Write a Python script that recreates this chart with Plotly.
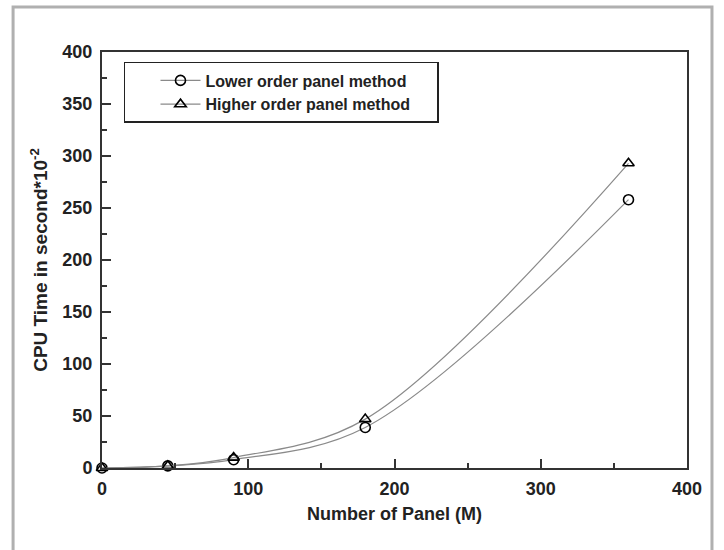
import plotly.graph_objects as go

panels = [0, 45, 90, 180, 360]
lower_order = [0, 2, 8, 39, 258]
higher_order = [0, 2, 10, 47, 293]

x_ticks = [0, 100, 200, 300, 400]
y_ticks = [0, 50, 100, 150, 200, 250, 300, 350, 400]

series_names = ["Lower order panel method", "Higher order panel method"]

FONT = "Liberation Sans, Arial, sans-serif"
PAD = "\u00a0" * 5

fig = go.Figure()
fig.add_trace(go.Scatter(
    x=panels, y=lower_order, name=series_names[0] + PAD,
    mode="lines+markers", line=dict(color="#8a8a8a", width=1.2, shape="spline", smoothing=1.0),
    marker=dict(symbol="circle-open", size=10, color="black", line=dict(width=1.6, color="black")),
    cliponaxis=False,
))
fig.add_trace(go.Scatter(
    x=panels, y=higher_order, name=series_names[1] + PAD,
    mode="lines+markers", line=dict(color="#8a8a8a", width=1.2, shape="spline", smoothing=1.0),
    marker=dict(symbol="triangle-up-open", size=10, color="black", line=dict(width=1.6, color="black")),
    cliponaxis=False,
))

axis_common = dict(
    showgrid=False, zeroline=False, showline=True, linecolor="#333333", linewidth=2,
    mirror=True, ticks="inside", tickcolor="#333333", tickwidth=2, ticklen=9,
    tickfont=dict(family=FONT, size=18, color="#222", weight="bold"),
    minor=dict(ticks="inside", ticklen=5, tickwidth=1.5, tickcolor="#333333"),
)

fig.update_xaxes(
    range=[0, 400], tickvals=x_ticks, ticktext=[str(v) for v in x_ticks],
    minor_dtick=50, ticklabelstandoff=3,
    title=dict(text="Number of Panel (M)", standoff=10,
               font=dict(family=FONT, size=18, color="#222", weight="bold")),
    **axis_common,
)
fig.update_yaxes(
    range=[0, 400], tickvals=y_ticks, ticktext=[str(v) for v in y_ticks],
    minor_dtick=25, ticklabelstandoff=4,
    title=dict(text="CPU Time in second*10<sup>-2</sup>", standoff=10,
               font=dict(family=FONT, size=19, color="#222", weight="bold")),
    **axis_common,
)

fig.add_shape(type="rect", xref="paper", yref="paper",
              x0=-0.152, x1=1.0427, y0=-0.23, y1=1.108,
              line=dict(color="#b0b0b0", width=3), layer="below")

fig.update_layout(
    width=724, height=550,
    margin=dict(l=102, r=37, t=52, b=82, autoexpand=False),
    paper_bgcolor="white", plot_bgcolor="white",
    font=dict(family=FONT, color="#222"),
    showlegend=True,
    legend=dict(
        x=0.0376, y=0.976, xanchor="left", yanchor="top",
        bordercolor="#222", borderwidth=1.5, bgcolor="white",
        font=dict(family=FONT, size=16, color="#222", weight="bold"),
        tracegroupgap=0, itemwidth=40, indentation=30,
    ),
)

fig.write_html("out.html")
